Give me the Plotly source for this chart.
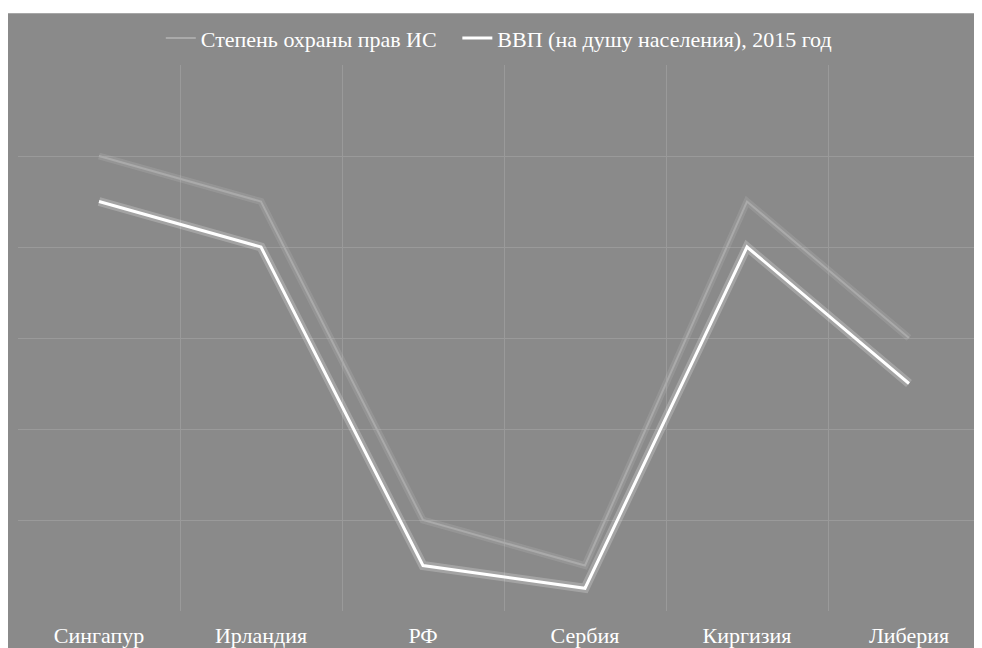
"""
Line chart: IP protection level vs GDP per capita, by country
"""
import plotly.graph_objects as go

countries = ["Сингапур", "Ирландия", "РФ", "Сербия", "Киргизия", "Либерия"]
ip_protection = [5, 4.5, 1, 0.5, 4.5, 3]
gdp_per_capita = [4.5, 4, 0.5, 0.25, 4, 2.5]

BG = "#8a8a8a"
GRID = "#9a9a9a"
FONT = "Liberation Serif"

fig = go.Figure()

# soft glow under each line
fig.add_trace(go.Scatter(
    x=countries, y=ip_protection, mode="lines",
    line={"color": "rgba(255,255,255,0.10)", "width": 7},
    showlegend=False, hoverinfo="skip"
))
fig.add_trace(go.Scatter(
    x=countries, y=gdp_per_capita, mode="lines",
    line={"color": "rgba(255,255,255,0.22)", "width": 9},
    showlegend=False, hoverinfo="skip"
))

fig.add_trace(go.Scatter(
    x=countries, y=ip_protection, mode="lines",
    name="Степень охраны прав ИС",
    line={"color": "#aaaaaa", "width": 2},
    legend="legend"
))
fig.add_trace(go.Scatter(
    x=countries, y=gdp_per_capita, mode="lines",
    name="ВВП (на душу населения), 2015 год",
    line={"color": "#ffffff", "width": 3},
    legend="legend2"
))

# thin white strip along the top edge
fig.add_shape(
    type="rect", xref="paper", yref="paper",
    x0=-0.05, x1=1.05, y0=1.095, y1=1.2,
    fillcolor="white", line={"width": 0}, layer="below"
)

legend_style = {
    "orientation": "h", "y": 1.049, "yanchor": "middle",
    "font": {"family": FONT, "size": 22, "color": "white"},
    "itemwidth": 30, "bgcolor": "rgba(0,0,0,0)"
}

fig.update_layout(
    width=982,
    height=648,
    paper_bgcolor=BG,
    plot_bgcolor=BG,
    margin={"l": 10, "r": 0, "t": 57, "b": 45, "autoexpand": False},
    font={"family": FONT, "color": "white", "size": 22},
    legend={**legend_style, "x": 0.436, "xanchor": "right"},
    legend2={**legend_style, "x": 0.452, "xanchor": "left"},
    showlegend=True
)

fig.update_xaxes(
    type="category", tickson="boundaries", range=[-0.5, 5.5],
    showgrid=True, gridcolor=GRID, gridwidth=1, automargin=False,
    ticks="", showline=False, zeroline=False,
    tickfont={"family": FONT, "size": 22, "color": "white"}, ticklabelstandoff=9
)
fig.update_yaxes(
    range=[0, 6], dtick=1, showgrid=True, gridcolor=GRID, gridwidth=1,
    showticklabels=False, zeroline=False, showline=False, automargin=False
)

fig.write_html("out.html")
